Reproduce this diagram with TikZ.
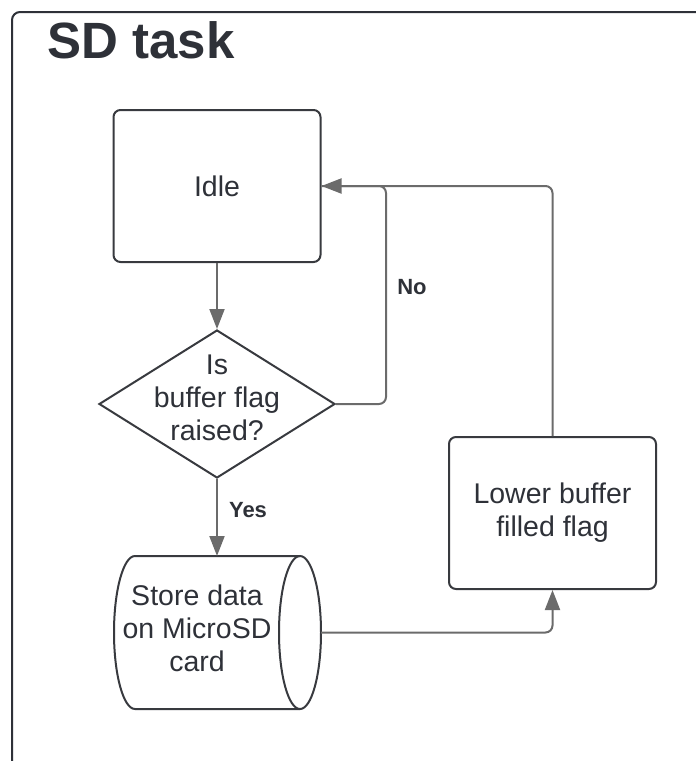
\documentclass[tikz,border=0pt]{standalone}
\usepackage{fontspec}
\setmainfont{Liberation Sans}
\usetikzlibrary{arrows.meta,shapes.geometric}
\definecolor{inkdark}{HTML}{2E3138}
\definecolor{border}{HTML}{383A3F}
\definecolor{wire}{HTML}{6B6B6B}
\tikzset{
  frame/.style={draw=inkdark, line width=2pt, rounded corners=8pt},
  stepbox/.style={draw=border, line width=2pt, rounded corners=7pt,
    minimum width=207pt, minimum height=152pt, inner sep=0pt},
  body/.style={font=\fontsize{28.5}{33}\selectfont, text=inkdark, align=center},
  decision/.style={draw=border, line width=2pt, diamond, inner sep=0pt,
    minimum width=236pt, minimum height=148pt},
  outline/.style={draw=border, line width=2pt},
  wirestyle/.style={draw=wire, line width=2pt, rounded corners=7pt,
    -{Triangle[length=20pt,width=15pt]}},
  plainwire/.style={draw=wire, line width=2pt, rounded corners=7pt},
  edgelabel/.style={font=\bfseries\fontsize{22}{26}\selectfont, text=inkdark},
}
\begin{document}
\begin{tikzpicture}[x=1pt,y=-1pt]
\useasboundingbox (0,0) rectangle (696,761);
\clip (0,0) rectangle (696,761);

% outer frame with title
\draw[frame] (12,800) -- (12,12) -- (740,12);
\node[font=\bfseries\fontsize{51}{57}\selectfont, text=inkdark, anchor=base west]
  (title) at (44,58) {SD task};

% process boxes
\node[stepbox, body] (idle) at (217,186) {Idle};
\node[stepbox, body] (lower) at (552.5,513) {Lower buffer\\filled flag};

% decision
\node[decision] (check) at (217,404) {};
\node[body] (checktext) at (217,398) {Is\\buffer flag\\raised?};

% storage cylinder (horizontal, visible end on the right)
\draw[outline] (135,556) -- (300,556)
  (300,709) -- (135,709)
  arc[start angle=90, end angle=270, x radius=21, y radius=76.5];
\draw[outline] (300,632.5) ellipse[x radius=21, y radius=76.5];
\coordinate (storetop) at (217,556);
\coordinate (storeend) at (321,632.5);
\node[body] (store) at (197,628) {Store data\\on MicroSD\\card};

% connectors
\draw[wirestyle] (idle.south) -- (check.north);
\draw[wirestyle] (check.south) -- (storetop);
\draw[wirestyle] (storeend) -| (lower.south);
\draw[wirestyle] (lower.north) |- (idle.east);
\draw[plainwire] (check.east) -| (386,186) -- (idle.east);

% branch labels
\node[edgelabel] (yes) at (248,510) {Yes};
\node[edgelabel] (no) at (412,287) {No};
\end{tikzpicture}
\end{document}
